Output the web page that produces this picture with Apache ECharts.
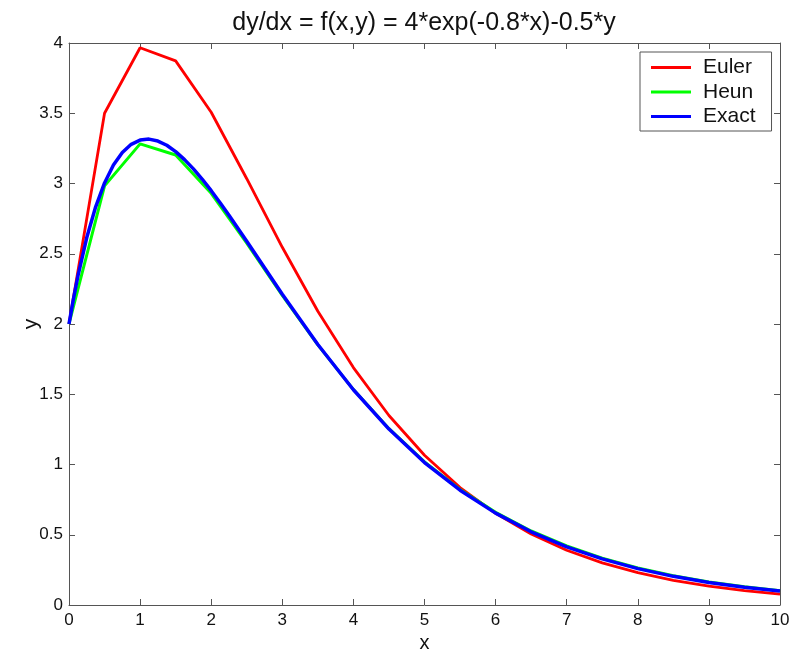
<!DOCTYPE html>
<html>
<head>
<meta charset="utf-8">
<script src="https://cdn.jsdelivr.net/npm/echarts@6/dist/echarts.min.js"></script>
<style>html,body{margin:0;padding:0;background:#fff}#c{width:800px;height:652px}</style>
</head>
<body>
<div id="c"></div>
<script>
const titleText = 'dy/dx = f(x,y) = 4*exp(-0.8*x)-0.5*y';
const seriesNames = ['Euler', 'Heun', 'Exact'];
const stepX = [0,0.5,1,1.5,2,2.5,3,3.5,4,4.5,5,5.5,6,6.5,7,7.5,8,8.5,9,9.5,10];
const eulerY = [2,3.5,3.966,3.873,3.507,3.034,2.546,2.091,1.690,1.349,1.066,0.836,0.652,0.505,0.390,0.300,0.230,0.176,0.134,0.102,0.078];
const heunY = [2,2.983,3.282,3.203,2.930,2.576,2.204,1.851,1.533,1.255,1.019,0.822,0.660,0.527,0.420,0.333,0.264,0.208,0.164,0.130,0.102];
const exactX = [0,0.0625,0.125,0.25,0.375,0.5,0.625,0.75,0.875,1,1.125,1.25,1.375,1.5,1.625,1.75,1.875,2,2.125,2.25,2.5,2.75,3,3.5,4,4.5,5,5.5,6,6.5,7,7.5,8,8.5,9,9.5,10];
const exactY = [2,2.179,2.340,2.615,2.834,3.004,3.131,3.221,3.279,3.309,3.316,3.302,3.272,3.227,3.170,3.104,3.030,2.949,2.863,2.774,2.589,2.400,2.212,1.854,1.532,1.252,1.014,0.817,0.654,0.521,0.414,0.328,0.259,0.204,0.160,0.126,0.099];
const xTicks = [0,1,2,3,4,5,6,7,8,9,10];
const yTicks = [0,0.5,1,1.5,2,2.5,3,3.5,4];

const pairs = (xs, ys) => xs.map((x, i) => [x, ys[i]]);
const axisColor = '#555';
const font = 'Liberation Sans, Arial, sans-serif';

const chart = echarts.init(document.getElementById('c'), null, {renderer: 'canvas'});
function mkX(pos, labels) {
  return {
    type: 'value', min: xTicks[0], max: xTicks[xTicks.length-1], interval: 1, position: pos,
    axisLine: {show: true, onZero: false, lineStyle: {color: axisColor, width: 1}},
    axisTick: {show: true, inside: true, length: 6, lineStyle: {color: axisColor}},
    axisLabel: labels ? {fontFamily: font, fontSize: 17, color: '#111', margin: 7} : {show: false},
    splitLine: {show: false}
  };
}
function mkY(pos, labels) {
  return {
    type: 'value', min: yTicks[0], max: yTicks[yTicks.length-1], interval: 0.5, position: pos,
    axisLine: {show: true, onZero: false, lineStyle: {color: axisColor, width: 1}},
    axisTick: {show: true, inside: true, length: 6, lineStyle: {color: axisColor}},
    axisLabel: labels ? {fontFamily: font, fontSize: 17, color: '#111', margin: 6} : {show: false},
    splitLine: {show: false}
  };
}
const xb = mkX('bottom', true);
xb.name = 'x'; xb.nameLocation = 'middle'; xb.nameGap = 27;
xb.nameTextStyle = {fontFamily: font, fontSize: 20, color: '#111'};
const yl = mkY('left', true);
yl.name = 'y'; yl.nameLocation = 'middle'; yl.nameGap = 27; yl.nameRotate = 90; yl.nameMoveOverlap = false;
yl.nameTextStyle = {fontFamily: font, fontSize: 21, color: '#111'};

chart.setOption({
  animation: false,
  backgroundColor: '#fff',
  title: {
    text: titleText, left: 419, top: 6, textAlign: 'center',
    textStyle: {fontFamily: font, fontSize: 25, fontWeight: 'normal', color: '#111'}
  },
  grid: {left: 69, right: 20, top: 43, bottom: 47, containLabel: false, outerBoundsMode: 'none'},
  legend: {
    data: seriesNames, orient: 'vertical', left: 640, top: 52,
    backgroundColor: '#fff', borderColor: axisColor, borderWidth: 1,
    padding: [5, 16, 4, 11], itemGap: 3.5, itemWidth: 40, itemHeight: 3,
    icon: 'rect',
    textStyle: {fontFamily: font, fontSize: 21, color: '#111', lineHeight: 21, padding: [0, 0, 0, 7]}
  },
  xAxis: [xb, mkX('top', false)],
  yAxis: [yl, mkY('right', false)],
  series: [
    {name: seriesNames[0], type: 'line', data: pairs(stepX, eulerY), showSymbol: false, color: '#ff0000', lineStyle: {width: 2.8, color: '#ff0000'}},
    {name: seriesNames[1], type: 'line', data: pairs(stepX, heunY), showSymbol: false, color: '#00ff00', lineStyle: {width: 3, color: '#00ff00'}},
    {name: seriesNames[2], type: 'line', data: pairs(exactX, exactY), showSymbol: false, color: '#0000ff', lineStyle: {width: 3.5, color: '#0000ff'}}
  ]
});
</script>
</body>
</html>
